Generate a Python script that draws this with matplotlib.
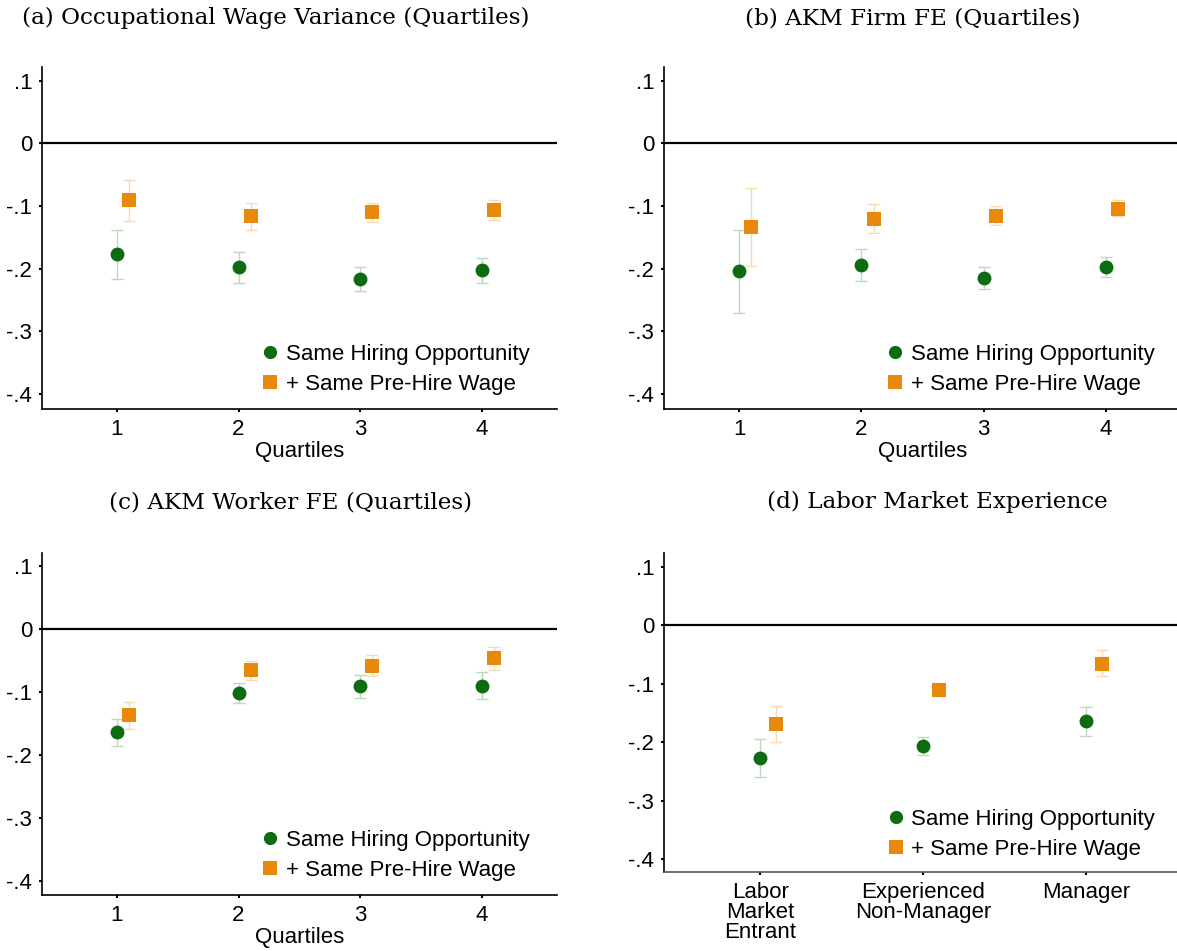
import numpy as np
import matplotlib
matplotlib.use('Agg')
import matplotlib.pyplot as plt
from matplotlib.lines import Line2D

plt.rcParams['font.family'] = ['Liberation Sans', 'DejaVu Sans']

GREEN = '#0d6b12'; ORANGE = '#e8890c'
GREEN_CI = '#bcd9bc'; ORANGE_CI = '#f9d9b4'

# point estimates and 95% CI bounds, one set per panel
quartiles = [1, 2, 3, 4]
exp_groups = ['Labor\nMarket\nEntrant', 'Experienced\nNon-Manager', 'Manager']

a_green = [-0.177, -0.198, -0.216, -0.202]
a_green_lo = [-0.216, -0.223, -0.235, -0.222]
a_green_hi = [-0.139, -0.173, -0.198, -0.183]
a_orange = [-0.091, -0.116, -0.110, -0.107]
a_orange_lo = [-0.124, -0.139, -0.125, -0.123]
a_orange_hi = [-0.058, -0.095, -0.095, -0.090]

b_green = [-0.203, -0.194, -0.215, -0.197]
b_green_lo = [-0.270, -0.220, -0.233, -0.213]
b_green_hi = [-0.138, -0.168, -0.197, -0.181]
b_orange = [-0.133, -0.121, -0.116, -0.104]
b_orange_lo = [-0.196, -0.143, -0.130, -0.116]
b_orange_hi = [-0.071, -0.097, -0.100, -0.090]

c_green = [-0.163, -0.102, -0.090, -0.090]
c_green_lo = [-0.185, -0.117, -0.109, -0.111]
c_green_hi = [-0.142, -0.085, -0.072, -0.068]
c_orange = [-0.136, -0.065, -0.059, -0.046]
c_orange_lo = [-0.158, -0.080, -0.075, -0.064]
c_orange_hi = [-0.116, -0.050, -0.041, -0.028]

d_green = [-0.227, -0.206, -0.164]
d_green_lo = [-0.259, -0.221, -0.189]
d_green_hi = [-0.194, -0.191, -0.139]
d_orange = [-0.169, -0.110, -0.066]
d_orange_lo = [-0.199, -0.121, -0.087]
d_orange_hi = [-0.138, -0.098, -0.043]

ytick_vals = [0.1, 0, -0.1, -0.2, -0.3, -0.4]
ytick_labels = ['.1', '0', '-.1', '-.2', '-.3', '-.4']
legend_labels = ['Same Hiring Opportunity', '+ Same Pre-Hire Wage']

W, H = 1177, 951
fig = plt.figure(figsize=(W/100, H/100), dpi=100)

def px_axes(l, r, t, b):
    return fig.add_axes([l/W, 1-b/H, (r-l)/W, (b-t)/H])

def panel(ax, cats, g, glo, ghi, o, olo, ohi, xlim, ylim, leg_xy, xlabel=None):
    x = np.arange(1, len(g)+1, dtype=float)
    g, glo, ghi = map(np.array, (g, glo, ghi)); o, olo, ohi = map(np.array, (o, olo, ohi))
    ax.axhline(0, color='black', lw=1.6, zorder=1)
    ax.errorbar(x, g, yerr=[g-glo, ghi-g], fmt='none', ecolor=GREEN_CI, elinewidth=1.0, capsize=4, capthick=1.0, zorder=2)
    ax.errorbar(x+0.1, o, yerr=[o-olo, ohi-o], fmt='none', ecolor=ORANGE_CI, elinewidth=1.0, capsize=4, capthick=1.0, zorder=2)
    ax.plot(x, g, 'o', color=GREEN, ms=10, mew=0, zorder=3)
    ax.plot(x+0.1, o, 's', color=ORANGE, ms=10.5, mew=0, zorder=3)
    ax.set_xlim(*xlim); ax.set_ylim(*ylim)
    ax.set_xticks(x); ax.set_xticklabels(cats, fontsize=16, linespacing=0.95)
    ax.set_yticks(ytick_vals); ax.set_yticklabels(ytick_labels, fontsize=16)
    ax.tick_params(axis='both', length=2, width=1.5, color='black', pad=5)
    for s in ['top', 'right']: ax.spines[s].set_visible(False)
    for s in ['left', 'bottom']: ax.spines[s].set_linewidth(1.2)
    if xlabel: ax.set_xlabel(xlabel, fontsize=16, labelpad=1)
    hs = [Line2D([], [], ls='', marker='o', color=GREEN, ms=9.5, mew=0),
          Line2D([], [], ls='', marker='s', color=ORANGE, ms=10, mew=0)]
    ax.legend(hs, legend_labels, loc='upper left', bbox_to_anchor=leg_xy, frameon=False, fontsize=16,
              borderpad=0, borderaxespad=0, handlelength=1.0, handletextpad=0.2, labelspacing=0.38)

ax_a = px_axes(42, 556.7, 66.7, 409.3)
ax_b = px_axes(664, 1181, 66.7, 409.3)
ax_c = px_axes(42, 556.7, 553.3, 895)
ax_d = px_axes(664, 1182, 553.3, 872.3)

qlim = (0.385, 4.615)
panel(ax_a, [str(q) for q in quartiles], a_green, a_green_lo, a_green_hi, a_orange, a_orange_lo, a_orange_hi,
      qlim, (-0.424, 0.122), (0.4216, 0.19), 'Quartiles')
panel(ax_b, [str(q) for q in quartiles], b_green, b_green_lo, b_green_hi, b_orange, b_orange_lo, b_orange_hi,
      qlim, (-0.424, 0.122), (0.4255, 0.19), 'Quartiles')
panel(ax_c, [str(q) for q in quartiles], c_green, c_green_lo, c_green_hi, c_orange, c_orange_lo, c_orange_hi,
      qlim, (-0.4228, 0.121), (0.4216, 0.19), 'Quartiles')
panel(ax_d, exp_groups, d_green, d_green_lo, d_green_hi, d_orange, d_orange_lo, d_orange_hi,
      (0.41, 3.59), (-0.4222, 0.123), (0.4255, 0.198))
ax_d.spines['bottom'].set_color('#555555')

titles = [('(a) Occupational Wage Variance (Quartiles)', 276, 18),
          ('(b) AKM Firm FE (Quartiles)', 913, 18),
          ('(c) AKM Worker FE (Quartiles)', 291, 502),
          ('(d) Labor Market Experience', 937, 502)]
for txt, cx, cy in titles:
    fig.text(cx/W, 1-cy/H, txt, ha='center', va='center', fontsize=16.7, family='DejaVu Serif')

fig.savefig('out.png', dpi=100)
